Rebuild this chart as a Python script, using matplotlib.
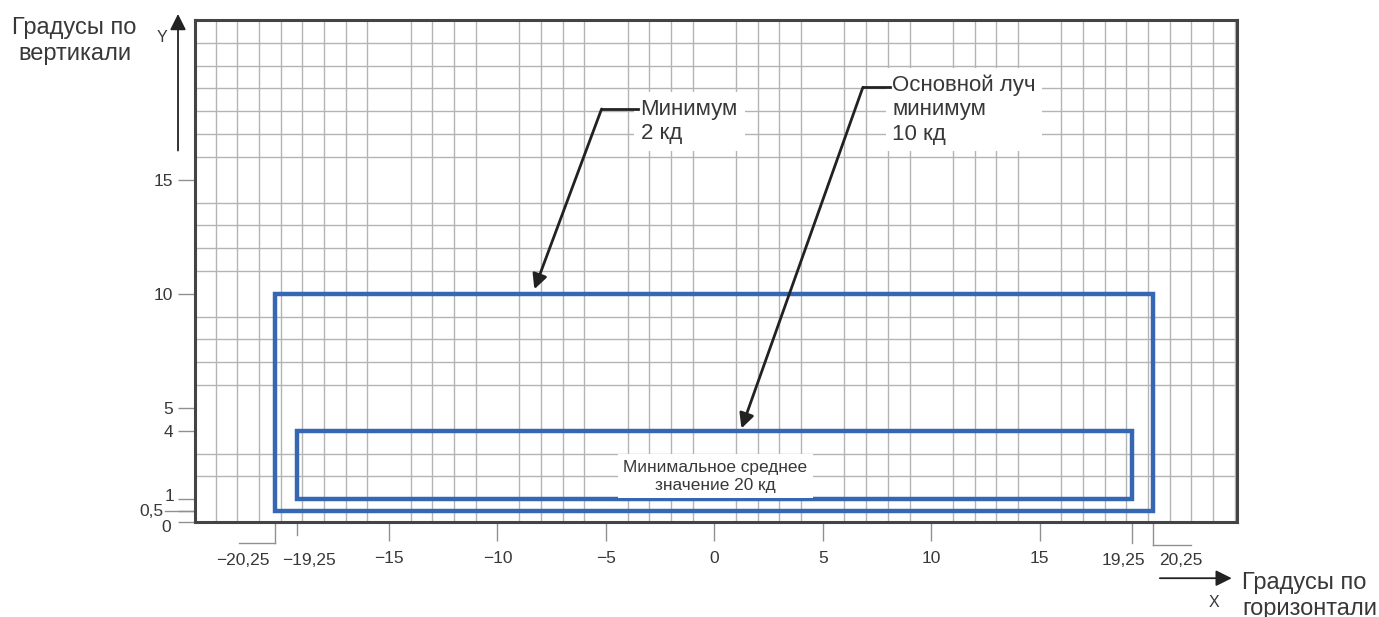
import matplotlib
matplotlib.use("Agg")
import matplotlib.pyplot as plt
import matplotlib.transforms as mtransforms
from matplotlib.patches import Rectangle

plt.rcParams['font.family'] = ['Liberation Sans', 'DejaVu Sans']

# zones (degrees)
outer_x = [-20.25, 20.25]
outer_y = [0.5, 10.0]
inner_x = [-19.25, 19.25]
inner_y = [1.0, 4.0]

# axis ticks
xtick_vals = [-15, -10, -5, 0, 5, 10, 15]
xtick_labels = ['\u221215', '\u221210', '\u22125', '0', '5', '10', '15']
edge_x_vals = [-20.25, -19.25, 19.25, 20.25]
edge_x_labels = ['\u221220,25', '\u221219,25', '19,25', '20,25']
ytick_vals = [0, 0.5, 1, 4, 5, 10, 15]
ytick_labels = ['', '', '', '4', '5', '10', '15']
low_y_labels = ['0', '0,5', '1']

# callouts: arrow tip, elbow, text
note_texts = ['Минимум\n2 кд', 'Основной луч\nминимум\n10 кд']
note_tips = [(-8.3, 10.2), (1.25, 4.1)]
note_elbows = [(-5.2, 18.1), (6.85, 19.05)]
note_text_x = [-3.4, 8.2]
note_text_top = [18.55, 19.6]
center_text = 'Минимальное среднее\nзначение 20 кд'

BLUE = '#3567b3'
GRID = '#b4b4b4'
TXT = '#383838'
TICK_FS = 12.5

fig = plt.figure(figsize=(13.79, 6.17), dpi=100)
ax = fig.add_axes([0.1414, 0.154, 0.7556, 0.8136])
ax.set_xlim(-23.95, 24.1)
ax.set_ylim(0, 22)

# graph paper grid, one degree per cell
ax.set_xticks(range(-23, 25), minor=True)
ax.set_yticks(range(0, 23), minor=True)
ax.grid(which='minor', color=GRID, linewidth=1.0)
ax.tick_params(which='minor', length=0)
for s in ax.spines.values():
    s.set_color('#444444')
    s.set_linewidth(2.2)

ax.set_xticks(xtick_vals)
ax.set_xticklabels(xtick_labels, fontsize=TICK_FS, color=TXT)
ax.set_yticks(ytick_vals)
ax.set_yticklabels(ytick_labels, fontsize=TICK_FS, color=TXT)
ax.tick_params(axis='x', which='major', direction='out', length=14, width=1,
               color='#909090', pad=7)
ax.tick_params(axis='y', which='major', direction='out', length=12, width=1,
               color='#909090', pad=4)

# labels for 0 / 0.5 / 1 are squeezed, place them by hand
ytrans = mtransforms.blended_transform_factory(ax.transAxes, ax.transData)
for lbl, xf, yv in zip(low_y_labels, [-0.028, -0.042, -0.024], [-0.25, 0.45, 1.1]):
    ax.text(xf, yv, lbl, transform=ytrans, ha='center', va='center',
            fontsize=TICK_FS, color=TXT)
ax.plot([-0.029, 0], [0.5, 0.5], transform=ytrans, color='#909090', lw=1,
        clip_on=False)

# edge ticks with leader lines
xtrans = mtransforms.blended_transform_factory(ax.transData, ax.transAxes)
leader_drop = [-0.042, -0.026, -0.042, -0.046]
leader_end = [-21.9, None, None, 22.0]
label_x = [-21.75, -18.7, 18.85, 21.5]
for xv, drop, end, lx, lbl in zip(edge_x_vals, leader_drop, leader_end,
                                   label_x, edge_x_labels):
    ax.plot([xv, xv], [0, drop], transform=xtrans, color='#909090', lw=1,
            clip_on=False)
    if end is not None:
        ax.plot([xv, end], [drop, drop], transform=xtrans, color='#909090',
                lw=1, clip_on=False)
    ax.text(lx, -0.077, lbl, transform=xtrans, ha='center', va='center',
            fontsize=TICK_FS, color=TXT)

# zones
ax.add_patch(Rectangle((outer_x[0], outer_y[0]), outer_x[1] - outer_x[0],
                       outer_y[1] - outer_y[0], fill=False, ec=BLUE, lw=3.2,
                       zorder=3))
ax.add_patch(Rectangle((inner_x[0], inner_y[0]), inner_x[1] - inner_x[0],
                       inner_y[1] - inner_y[0], fill=False, ec=BLUE, lw=3.2,
                       zorder=3))

ax.text(0.05, 2.0, center_text, ha='center', va='center', fontsize=12.4,
        color=TXT, linespacing=1.3, zorder=4,
        bbox=dict(boxstyle='square,pad=0.3', fc='white', ec='none'))

# callouts
for txt, tip, elbow, tx, ty in zip(note_texts, note_tips, note_elbows,
                                   note_text_x, note_text_top):
    ax.annotate('', xy=tip, xytext=elbow, zorder=5,
                arrowprops=dict(arrowstyle='-|>', color='#222222', lw=2,
                                mutation_scale=22, shrinkA=0, shrinkB=0))
    ax.plot([elbow[0], tx - 0.1], [elbow[1], elbow[1]], color='#222222',
            lw=2, zorder=5)
    ax.text(tx, ty, txt, ha='left', va='top', fontsize=16, color=TXT,
            linespacing=1.2, zorder=4,
            bbox=dict(boxstyle='square,pad=0.3', fc='white', ec='none'))

# axis arrows and titles
ax.annotate('', xy=(-0.0163, 1.012), xytext=(-0.0163, 0.74),
            xycoords='axes fraction', annotation_clip=False,
            arrowprops=dict(arrowstyle='-|>', color='#222222', lw=1.3,
                            mutation_scale=24, shrinkA=0, shrinkB=0))
ax.annotate('', xy=(0.995, -0.112), xytext=(0.926, -0.112),
            xycoords='axes fraction', annotation_clip=False,
            arrowprops=dict(arrowstyle='-|>', color='#222222', lw=1.3,
                            mutation_scale=24, shrinkA=0, shrinkB=0))
fig.text(0.054, 0.933, 'Градусы по\nвертикали', ha='center', va='center',
         fontsize=17, color=TXT, linespacing=1.25)
fig.text(0.1175, 0.94, 'Y', ha='center', va='center', fontsize=11.5,
         color=TXT)
fig.text(0.880, 0.024, 'X', ha='center', va='center', fontsize=11.5,
         color=TXT)
fig.text(0.9007, 0.034, 'Градусы по\nгоризонтали', ha='left', va='center',
         fontsize=17, color=TXT, linespacing=1.2)

fig.savefig('out.png', dpi=100, facecolor='white')
